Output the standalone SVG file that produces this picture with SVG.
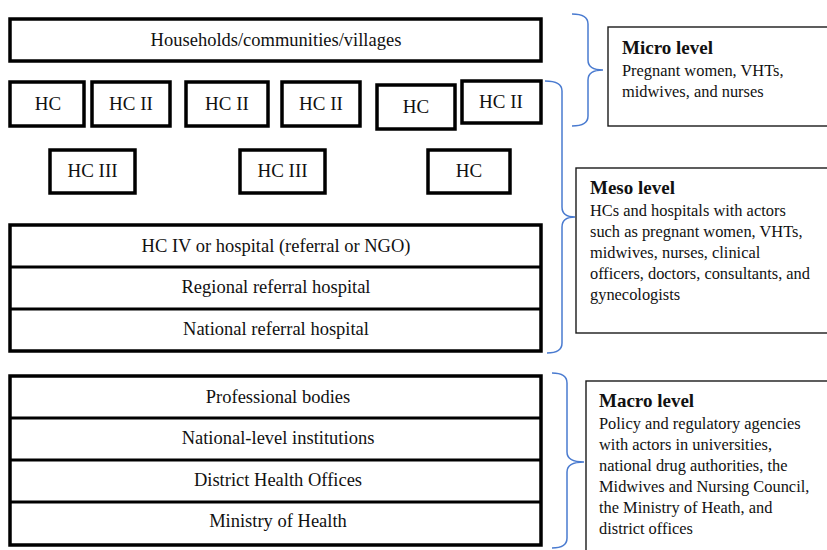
<svg xmlns="http://www.w3.org/2000/svg" width="827" height="550" viewBox="0 0 827 550">
  <style>
    .box { fill: #ffffff; stroke: #000000; stroke-width: 3.5; }
    .div { stroke: #000000; stroke-width: 3; }
    .lbl { font-family: "Liberation Serif", "Times New Roman", serif; font-size: 18.5px; fill: #111111; text-anchor: middle; }
    .hc { font-size: 19px; }
    .panel { fill: #ffffff; stroke: #1a1a1a; stroke-width: 1.4; }
    .ttl { font-family: "Liberation Serif", "Times New Roman", serif; font-size: 19px; font-weight: bold; fill: #111111; }
    .body { font-family: "Liberation Serif", "Times New Roman", serif; font-size: 16.4px; fill: #111111; }
    .brace { fill: none; stroke: #4a7bd0; stroke-width: 1.5; }
  </style>
  <rect width="827" height="550" fill="#ffffff"/>

  <!-- community level -->
  <g id="households">
    <rect class="box" x="10" y="19" width="531" height="42"/>
    <text class="lbl" x="276" y="46">Households/communities/villages</text>
  </g>

  <!-- lower-level health centres -->
  <g id="hc-1"><rect class="box" x="10" y="82" width="74" height="44"/><text class="lbl hc" x="48" y="110">HC</text></g>
  <g id="hc-ii-1"><rect class="box" x="92" y="82" width="78" height="44"/><text class="lbl hc" x="131" y="110">HC II</text></g>
  <g id="hc-ii-2"><rect class="box" x="186" y="82" width="82" height="44"/><text class="lbl hc" x="227" y="110">HC II</text></g>
  <g id="hc-ii-3"><rect class="box" x="282" y="82" width="78" height="44"/><text class="lbl hc" x="321" y="110">HC II</text></g>
  <g id="hc-2"><rect class="box" x="377" y="85" width="78" height="44"/><text class="lbl hc" x="416" y="113">HC</text></g>
  <g id="hc-ii-4"><rect class="box" x="462" y="81" width="79" height="42"/><text class="lbl hc" x="501" y="108">HC II</text></g>

  <g id="hc-iii-1"><rect class="box" x="50" y="150" width="85" height="43"/><text class="lbl hc" x="92.5" y="177">HC III</text></g>
  <g id="hc-iii-2"><rect class="box" x="240" y="150" width="85" height="43"/><text class="lbl hc" x="282.5" y="177">HC III</text></g>
  <g id="hc-3"><rect class="box" x="428" y="150" width="82" height="43"/><text class="lbl hc" x="469" y="177">HC</text></g>

  <!-- hospitals -->
  <g id="hospitals">
    <rect class="box" x="10" y="225" width="531" height="126"/>
    <line class="div" x1="10" y1="267" x2="541" y2="267"/>
    <line class="div" x1="10" y1="309" x2="541" y2="309"/>
    <text class="lbl" x="276" y="252">HC IV or hospital (referral or NGO)</text>
    <text class="lbl" x="276" y="293">Regional referral hospital</text>
    <text class="lbl" x="276" y="335">National referral hospital</text>
  </g>

  <!-- policy and regulation -->
  <g id="institutions">
    <rect class="box" x="10" y="376" width="531" height="169"/>
    <line class="div" x1="10" y1="418" x2="541" y2="418"/>
    <line class="div" x1="10" y1="460" x2="541" y2="460"/>
    <line class="div" x1="10" y1="502" x2="541" y2="502"/>
    <text class="lbl" x="278" y="403">Professional bodies</text>
    <text class="lbl" x="278" y="444">National-level institutions</text>
    <text class="lbl" x="278" y="486">District Health Offices</text>
    <text class="lbl" x="278" y="527">Ministry of Health</text>
  </g>

  <!-- level braces -->
  <g id="connectors">
    <path class="brace" d="M572,14 Q588,14 588,24 L588,60 Q588,70 603,70 Q588,70 588,80 L588,116 Q588,126 572,126"/>
    <path class="brace" d="M545,81 Q562,81 562,91 L562,207 Q562,217 575,217 Q562,217 562,227 L562,343 Q562,353 547,353"/>
    <path class="brace" d="M552,373 Q567,373 567,383 L567,452 Q567,462 584,462 Q567,462 567,472 L567,538 Q567,548 552,548"/>
  </g>

  <!-- level descriptions -->
  <g id="micro-level">
    <rect class="panel" x="608" y="27" width="240" height="99"/>
    <text class="ttl" x="622" y="54">Micro level</text>
    <text class="body" x="622" y="76">Pregnant women, VHTs,</text>
    <text class="body" x="622" y="97">midwives, and nurses</text>
  </g>

  <g id="meso-level">
    <rect class="panel" x="576" y="168" width="270" height="165"/>
    <text class="ttl" x="590" y="194">Meso level</text>
    <text class="body" x="590" y="216">HCs and hospitals with actors</text>
    <text class="body" x="590" y="237">such as pregnant women, VHTs,</text>
    <text class="body" x="590" y="258">midwives, nurses, clinical</text>
    <text class="body" x="590" y="279">officers, doctors, consultants, and</text>
    <text class="body" x="590" y="300">gynecologists</text>
  </g>

  <g id="macro-level">
    <rect class="panel" x="586" y="381" width="260" height="190"/>
    <text class="ttl" x="599" y="407">Macro level</text>
    <text class="body" x="599" y="429">Policy and regulatory agencies</text>
    <text class="body" x="599" y="450">with actors in universities,</text>
    <text class="body" x="599" y="471">national drug authorities, the</text>
    <text class="body" x="599" y="492">Midwives and Nursing Council,</text>
    <text class="body" x="599" y="513">the Ministry of Heath, and</text>
    <text class="body" x="599" y="534">district offices</text>
  </g>
</svg>
